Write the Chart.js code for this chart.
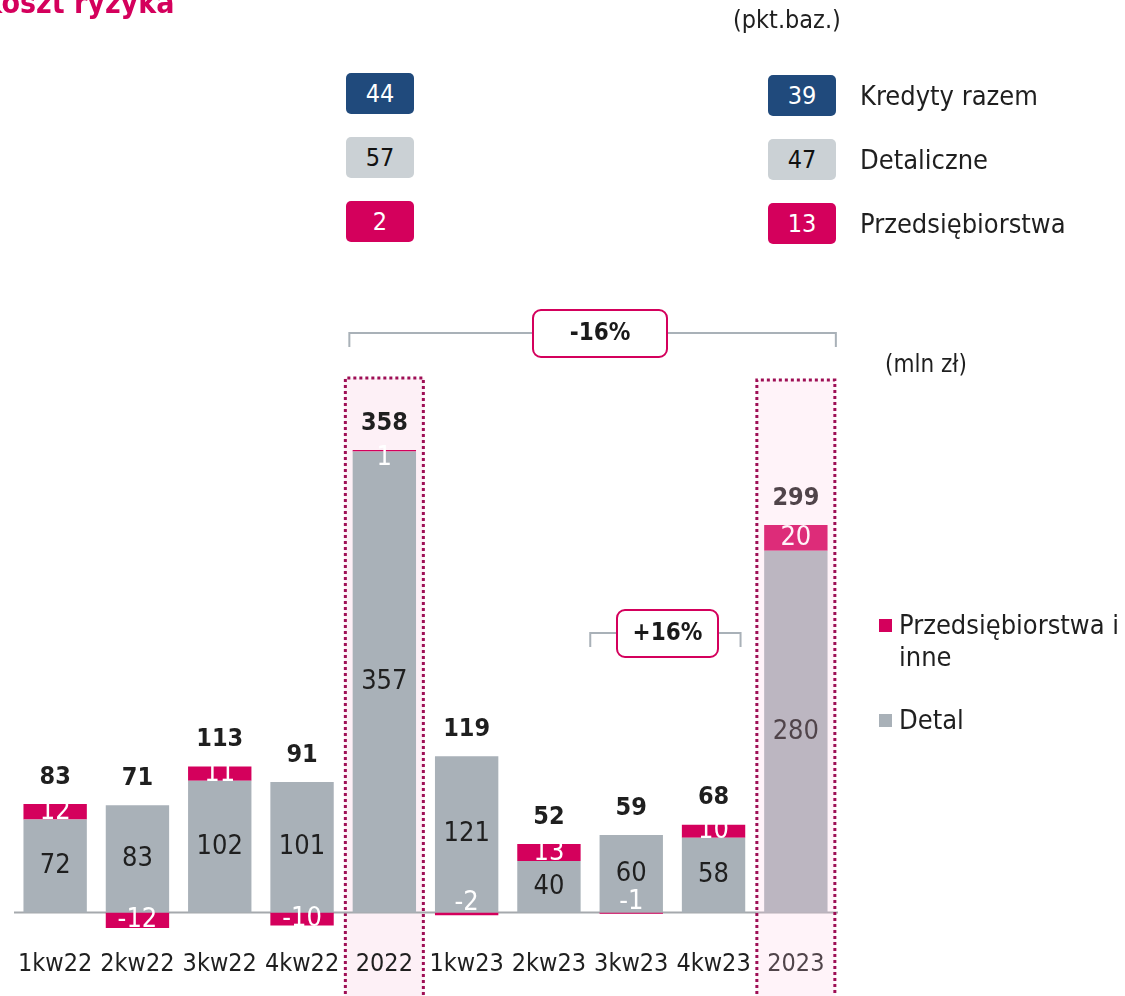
<!DOCTYPE html>
<html lang="pl">
<head>
<meta charset="utf-8">
<script src="https://cdn.jsdelivr.net/npm/chart.js@4.4.1/dist/chart.umd.min.js"></script>
<style>
  body { margin: 0; background: #fff; font-family: "DejaVu Sans Condensed", "DejaVu Sans", sans-serif; color: #1f1f1f; }
  #wrap { position: relative; width: 1125px; height: 996px; overflow: hidden; }
  #myChart { position: absolute; left: 0; top: 0; }
  .abs { position: absolute; white-space: nowrap; }
  .title { left: -19px; top: -15px; font-size: 30px; font-weight: bold; color: #D4005C; }
  .unit { font-size: 24px; line-height: 30px; }
  .kbox { position: absolute; width: 68px; height: 41px; border-radius: 5px; font-size: 25px; line-height: 41px; text-align: center; }
  .klabel { position: absolute; font-size: 27px; line-height: 41px; }
  .leg { position: absolute; left: 879px; font-size: 27px; line-height: 32px; }
  .leg i { display: inline-block; width: 13px; height: 13px; margin-right: 7px; vertical-align: 2px; }
</style>
</head>
<body>
<div id="wrap">
  <canvas id="myChart" width="1125" height="996"></canvas>
  <div class="abs title">Koszt ryzyka</div>
  <div class="abs unit" style="left:733px; top:5px; font-size:25px;">(pkt.baz.)</div>
  <div class="abs unit" style="left:885px; top:349px;">(mln zł)</div>
  <div id="kosztBoxes"></div>
  <div class="leg" style="top:609px;"><i style="background:#D4005C"></i>Przedsiębiorstwa i<br><span style="margin-left:20px">inne</span></div>
  <div class="leg" style="top:704px;"><i style="background:#A9B1B8"></i>Detal</div>
</div>
<script>
const categories = ['1kw22', '2kw22', '3kw22', '4kw22', '2022', '1kw23', '2kw23', '3kw23', '4kw23', '2023'];
const detal = [72, 83, 102, 101, 357, 121, 40, 60, 58, 280];
const przedsiebiorstwa = [12, -12, 11, -10, 1, -2, 13, -1, 10, 20];
const totals = [83, 71, 113, 91, 358, 119, 52, 59, 68, 299];

const kosztLabels = ['Kredyty razem', 'Detaliczne', 'Przedsiębiorstwa'];
const koszt2022 = [44, 57, 2];
const koszt2023 = [39, 47, 13];

const FONT = '"DejaVu Sans Condensed", "DejaVu Sans", sans-serif';
const boxColors = [['#204A7C', '#fff'], ['#CBD1D5', '#111'], ['#D4005C', '#fff']];

// top boxes with basis points
const holder = document.getElementById('kosztBoxes');
kosztLabels.forEach(function(label, i) {
    let b1 = document.createElement('div');
    b1.className = 'kbox';
    b1.style.left = '346px';
    b1.style.top = (73 + i * 64) + 'px';
    b1.style.background = boxColors[i][0];
    b1.style.color = boxColors[i][1];
    b1.textContent = koszt2022[i];
    holder.appendChild(b1);

    let b2 = document.createElement('div');
    b2.className = 'kbox';
    b2.style.left = '768px';
    b2.style.top = (75 + i * 64) + 'px';
    b2.style.background = boxColors[i][0];
    b2.style.color = boxColors[i][1];
    b2.textContent = koszt2023[i];
    holder.appendChild(b2);

    let l = document.createElement('div');
    l.className = 'klabel';
    l.style.left = '860px';
    l.style.top = (75 + i * 64) + 'px';
    l.textContent = label;
    holder.appendChild(l);
});

function roundRect(c, x, y, w, h, r) {
    c.beginPath();
    c.moveTo(x + r, y);
    c.arcTo(x + w, y, x + w, y + h, r);
    c.arcTo(x + w, y + h, x, y + h, r);
    c.arcTo(x, y + h, x, y, r);
    c.arcTo(x, y, x + w, y, r);
    c.closePath();
}

function dottedBox(c, xc, top, bottom, fill) {
    c.save();
    c.fillStyle = fill;
    c.fillRect(xc - 40, top, 80, bottom - top);
    c.strokeStyle = '#9E0E55';
    c.lineWidth = 3;
    c.setLineDash([3, 3]);
    c.beginPath();
    c.moveTo(xc - 39, bottom);
    c.lineTo(xc - 39, top);
    c.lineTo(xc + 39, top);
    c.lineTo(xc + 39, bottom);
    c.stroke();
    c.restore();
}

function bracket(c, x1, x2, y, label, boxX, boxW) {
    c.save();
    c.strokeStyle = '#A9B1B8';
    c.lineWidth = 2;
    c.beginPath();
    c.moveTo(x1, y + 14);
    c.lineTo(x1, y);
    c.lineTo(x2, y);
    c.lineTo(x2, y + 14);
    c.stroke();
    roundRect(c, boxX, y - 23, boxW, 47, 8);
    c.fillStyle = '#fff';
    c.fill();
    c.strokeStyle = '#D4005C';
    c.lineWidth = 2;
    c.stroke();
    c.fillStyle = '#1a1a1a';
    c.font = 'bold 24px ' + FONT;
    c.textAlign = 'center';
    c.textBaseline = 'middle';
    c.fillText(label, boxX + boxW / 2, y + 1);
    c.restore();
}

const decorPlugin = {
    id: 'decor',
    beforeDraw: function(chart) {
        const c = chart.ctx;
        const x = chart.scales.x;
        dottedBox(c, x.getPixelForValue(4), 378, 1000, '#FDF0F6');
    },
    beforeDatasetsDraw: function(chart) {
        const c = chart.ctx;
        const y0 = chart.scales.y.getPixelForValue(0);
        c.save();
        c.strokeStyle = '#A5A9AD';
        c.lineWidth = 2;
        c.beginPath();
        c.moveTo(chart.chartArea.left, y0);
        c.lineTo(chart.chartArea.right + 1, y0);
        c.stroke();
        c.restore();
    },
    afterDatasetsDraw: function(chart) {
        const c = chart.ctx;
        const yScale = chart.scales.y;
        const mDetal = chart.getDatasetMeta(0);
        const mPrzed = chart.getDatasetMeta(1);
        c.save();
        c.textAlign = 'center';
        c.textBaseline = 'middle';
        mDetal.data.forEach(function(bar, i) {
            c.font = '27px ' + FONT;
            c.fillStyle = '#1f1f1f';
            c.fillText(detal[i], bar.x, (bar.y + bar.base) / 2);

            const p = mPrzed.data[i];
            const v = przedsiebiorstwa[i];
            let py = (p.y + p.base) / 2;
            if (Math.abs(v) < 5) py = v > 0 ? p.y + 8 : p.y - 12;
            c.fillStyle = '#fff';
            c.fillText(v, p.x, py);

            const topVal = Math.max(detal[i], detal[i] + Math.max(v, 0));
            c.font = 'bold 25px ' + FONT;
            c.fillStyle = '#1f1f1f';
            c.fillText(totals[i], bar.x, yScale.getPixelForValue(topVal) - 27);
        });
        c.restore();
    },
    afterDraw: function(chart) {
        const c = chart.ctx;
        const x = chart.scales.x;
        const x23 = x.getPixelForValue(9);
        // 2023 column: tinted overlay over the bars
        c.save();
        c.fillStyle = 'rgba(254, 202, 229, 0.22)';
        c.fillRect(x23 - 40, 380, 80, 620);
        c.restore();
        dottedBox(c, x23, 380, 1000, 'rgba(0,0,0,0)');

        bracket(c, x.getPixelForValue(4) - 35, x23 + 40, 333, '-16%', 533, 134);
        bracket(c, x.getPixelForValue(7) - 41, x.getPixelForValue(8) + 27, 633, '+16%', 617, 101);
    }
};

const ctx = document.getElementById('myChart').getContext('2d');

const myChart = new Chart(ctx, {
    type: 'bar',
    data: {
        labels: categories,
        datasets: [{
            label: 'Detal',
            data: detal,
            backgroundColor: '#A9B1B8',
            stack: 's'
        }, {
            label: 'Przedsiębiorstwa i inne',
            data: przedsiebiorstwa,
            backgroundColor: '#D4005C',
            stack: 's'
        }]
    },
    options: {
        responsive: false,
        animation: false,
        layout: {
            padding: { left: 14, right: 288, top: 370, bottom: 17 }
        },
        datasets: {
            bar: { barPercentage: 0.77, categoryPercentage: 1 }
        },
        scales: {
            x: {
                stacked: true,
                grid: { display: false },
                border: { display: false },
                ticks: {
                    color: '#1f1f1f',
                    font: { family: FONT, size: 25 },
                    padding: 0,
                    maxRotation: 0,
                    autoSkip: false
                }
            },
            y: {
                stacked: true,
                display: false,
                min: -22,
                max: 420
            }
        },
        plugins: {
            legend: { display: false },
            tooltip: { enabled: false }
        }
    },
    plugins: [decorPlugin]
});
</script>
</body>
</html>
